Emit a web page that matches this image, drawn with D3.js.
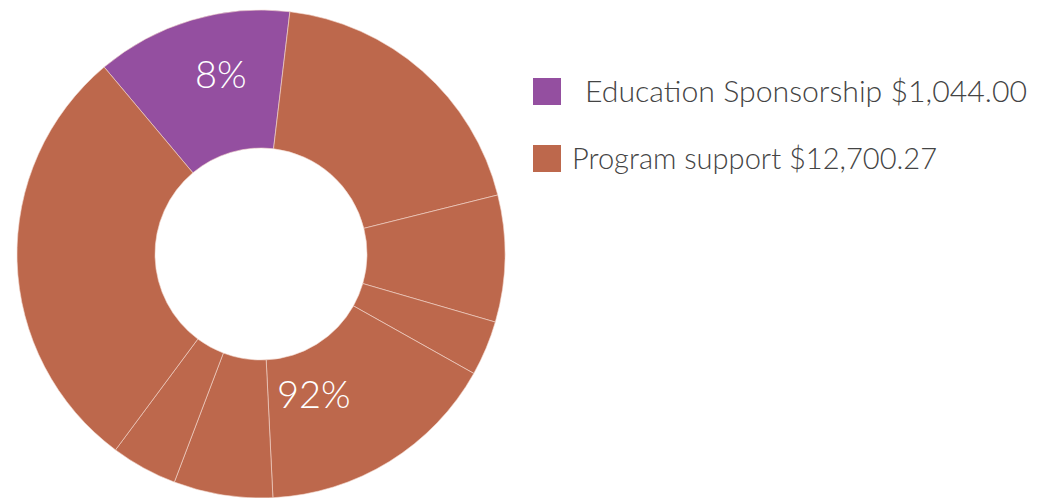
<!DOCTYPE html>
<html>
<head>
<meta charset="utf-8">
<script src="https://cdn.jsdelivr.net/npm/d3@7"></script>
<style>
  html, body { margin: 0; padding: 0; background: #fff; }
  svg { display: block; }
</style>
</head>
<body>
<svg id="chart" width="1051" height="498"></svg>
<script>
// ---- data ----
const categories = ["Education Sponsorship", "Program support"];
const amounts = [1044.00, 12700.27];
const percentLabels = ["8%", "92%"];
const colors = ["#944fa0", "#bd684c"];
// individual slices (share of circle) and their category
const sliceValues = [46.8, 69.2, 30.2, 13.1, 57.9, 23.6, 15.8, 103.4];
const sliceCategory = [0, 1, 1, 1, 1, 1, 1, 1];

// ---- layout ----
const cx = 261, cy = 254, outerR = 244, innerR = 106;
const startDeg = -40;
const svg = d3.select("#chart");
const g = svg.append("g").attr("transform", `translate(${cx},${cy})`);

const pie = d3.pie().sort(null)
  .startAngle(startDeg * Math.PI / 180)
  .endAngle((startDeg + 360) * Math.PI / 180);
const arc = d3.arc().innerRadius(innerR).outerRadius(outerR);

const slices = pie(sliceValues);
g.selectAll("path.slice").data(slices).enter().append("path")
  .attr("class", "slice")
  .attr("d", arc)
  .attr("fill", (d, i) => colors[sliceCategory[i]])
  .attr("stroke", "#f3d9cf")
  .attr("stroke-width", 0.6);

// category-level arcs for label placement
const catTotals = categories.map((c, ci) =>
  d3.sum(sliceValues.filter((v, i) => sliceCategory[i] === ci)));
const catArcs = pie(catTotals);
const labelRadii = [184, 150];
const labelAngleShift = [4, -4];
g.selectAll("text.pct").data(catArcs).enter().append("text")
  .attr("class", "pct")
  .attr("transform", (d, i) => {
    const a = (d.startAngle + d.endAngle) / 2 + labelAngleShift[i] * Math.PI / 180;
    const r = labelRadii[i];
    return `translate(${r * Math.sin(a)},${-r * Math.cos(a)})`;
  })
  .attr("text-anchor", "middle")
  .attr("dy", "0.35em")
  .attr("font-family", "Lato, 'DejaVu Sans', sans-serif")
  .attr("font-weight", 300)
  .attr("font-size", 38)
  .attr("fill", "#fff")
  .text((d, i) => percentLabels[i]);

// ---- legend ----
const fmt = d3.format(",.2f");
const legend = svg.append("g").attr("transform", "translate(533,78)");
const rowGap = 67;
const textX = [52, 39];
const textLen = [442, 365];
categories.forEach((c, i) => {
  const row = legend.append("g").attr("transform", `translate(0,${i * rowGap})`);
  row.append("rect").attr("width", 28).attr("height", 27).attr("fill", colors[i]);
  row.append("text")
    .attr("x", textX[i]).attr("y", 24)
    .attr("font-family", "Lato, 'DejaVu Sans', sans-serif")
    .attr("font-weight", 300)
    .attr("font-size", 30)
    .attr("fill", "#444")
    .attr("textLength", textLen[i])
    .attr("lengthAdjust", "spacingAndGlyphs")
    .text(`${c} $${fmt(amounts[i])}`);
});
</script>
</body>
</html>
